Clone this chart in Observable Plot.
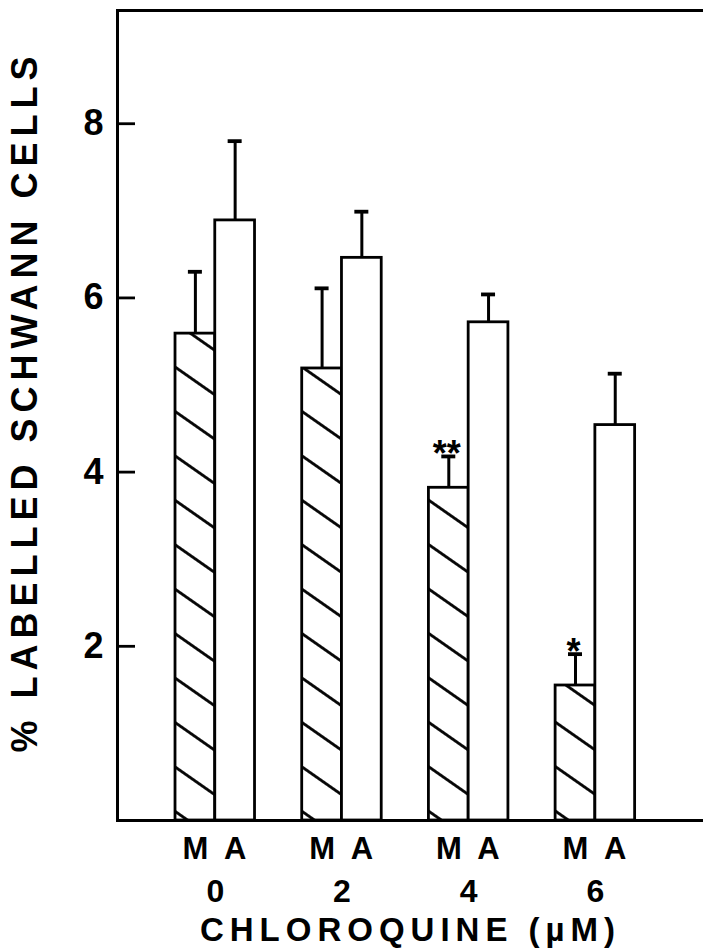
<!DOCTYPE html>
<html><head><meta charset="utf-8">
<script src="https://cdn.jsdelivr.net/npm/d3@7"></script>
<script src="https://cdn.jsdelivr.net/npm/@observablehq/plot@0.6"></script>
<style>body{margin:0;background:#fff;}</style>
</head><body><div id="chart"></div>
<script>
const concentrations = ["0", "2", "4", "6"];
const treatments = ["M", "A"];
const mMeans = [5.59, 5.19, 3.82, 1.55];
const mUpper = [6.30, 6.11, 4.18, 1.91];
const aMeans = [6.89, 6.46, 5.72, 4.54];
const aUpper = [7.80, 6.99, 6.04, 5.13];
const significance = ["", "", "**", "*"];
const yTicks = [2, 4, 6, 8];
const yLabel = "% LABELLED SCHWANN CELLS";
const xLabel = "CHLOROQUINE (µM)";

const rows = concentrations.map((c, i) => ({
  conc: c, m: mMeans[i], mHi: mUpper[i], a: aMeans[i], aHi: aUpper[i], sig: significance[i]
}));

const W = 703, H = 950, ML = 117, MR = 0, MT = 10, MB = 130;
const xOpts = {paddingInner: 0.3725, paddingOuter: 0.4988, align: 0.459};
const bw = d3.scaleBand().domain(concentrations).range([ML, W - MR])
  .paddingInner(xOpts.paddingInner).paddingOuter(xOpts.paddingOuter).align(xOpts.align).bandwidth();
const half = bw / 2, quarter = bw / 4, cap = 7;
const font = "'Liberation Sans', Arial, Helvetica, sans-serif";

const svg = Plot.plot({
  width: W, height: H,
  marginLeft: ML, marginRight: MR, marginTop: MT, marginBottom: MB,
  style: {fontFamily: font, color: "black", background: "white", overflow: "visible"},
  x: {domain: concentrations, axis: null, round: false, ...xOpts},
  y: {domain: [0, 9.3]},
  marks: [
    Plot.barY(rows, {x: "conc", y: "m", insetRight: half, fill: "url(#hatch)", stroke: "black", strokeWidth: 2.8}),
    Plot.barY(rows, {x: "conc", y: "a", insetLeft: half, fill: "white", stroke: "black", strokeWidth: 2.8}),
    Plot.ruleX(rows, {x: "conc", y1: "m", y2: "mHi", dx: -quarter, strokeWidth: 3}),
    Plot.ruleX(rows, {x: "conc", y1: "a", y2: "aHi", dx: quarter, strokeWidth: 3}),
    Plot.tickY(rows, {x: "conc", y: "mHi", insetLeft: quarter - cap, insetRight: bw - quarter - cap, strokeWidth: 3.8}),
    Plot.tickY(rows, {x: "conc", y: "aHi", insetLeft: half + quarter - cap, insetRight: quarter - cap, strokeWidth: 3.8}),
    Plot.text(rows, {x: "conc", y: "mHi", text: "sig", dx: -quarter - 2, dy: 10, lineAnchor: "bottom", fontSize: 36, fontWeight: "bold"}),
    Plot.ruleY([0], {strokeWidth: 3}),
    Plot.ruleY([9.3], {strokeWidth: 3}),
    Plot.frame({anchor: "left", strokeWidth: 3}),
    Plot.axisY(yTicks, {tickSize: -18, tickPadding: 32, tickFormat: d => String(d), fontSize: 36, fontWeight: "bold", strokeWidth: 2.8, label: null}),
    Plot.text(concentrations, {x: d => d, text: () => treatments[0], dx: -quarter, frameAnchor: "bottom", dy: 38, fontSize: 31, fontWeight: "bold"}),
    Plot.text(concentrations, {x: d => d, text: () => treatments[1], dx: quarter, frameAnchor: "bottom", dy: 38, fontSize: 31, fontWeight: "bold"}),
    Plot.text(concentrations, {x: d => d, text: d => d, frameAnchor: "bottom", dy: 81, fontSize: 32, fontWeight: "bold"}),
    Plot.text([xLabel], {frameAnchor: "bottom", dy: 120, fontSize: 33, fontWeight: "bold"}),
    Plot.text([yLabel], {frameAnchor: "left", textAnchor: "middle", rotate: -90, dx: -92, dy: -14, fontSize: 36, fontWeight: "bold"})
  ]
});

const ns = "http://www.w3.org/2000/svg";
const defs = document.createElementNS(ns, "defs");
defs.innerHTML = `<pattern id="hatch" patternUnits="userSpaceOnUse" width="20" height="36.4" patternTransform="rotate(35)">
<rect width="20" height="36.4" fill="white"/>
<line x1="-2" y1="18.2" x2="22" y2="18.2" stroke="black" stroke-width="2.8"/></pattern>`;
svg.insertBefore(defs, svg.firstChild);

svg.querySelectorAll("text").forEach(t => {
  if (t.textContent === xLabel) t.style.letterSpacing = "6px";
  if (t.textContent === yLabel) t.style.letterSpacing = "6px";
});
document.getElementById("chart").appendChild(svg);
</script>
</body></html>
